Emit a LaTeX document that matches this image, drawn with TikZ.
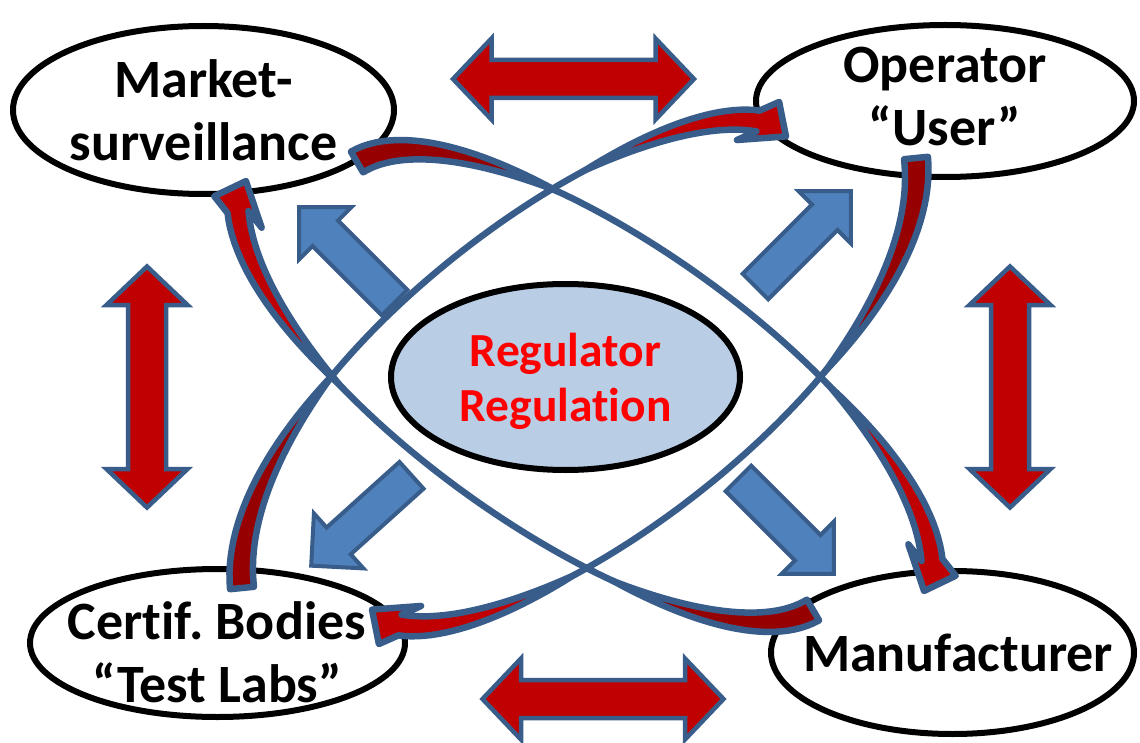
\documentclass[tikz,border=0pt]{standalone}
\usepackage{fontspec}
\setmainfont{Carlito}[Ligatures={NoCommon}]
\usetikzlibrary{shapes.geometric}
\definecolor{outl}{RGB}{56,93,138}
\definecolor{blockfill}{RGB}{79,129,189}
\definecolor{redfill}{RGB}{192,0,0}
\definecolor{darkfill}{RGB}{150,0,0}
\definecolor{regfill}{RGB}{185,205,229}
\definecolor{regtext}{RGB}{255,0,0}

\def\NN{80}
\def\NM{40}
\def\ta{0.33}
\def\tb{0.71}
\def\wa{24}
\def\wb{21}

% ribbon geometry from cubic Bezier (\xa,\ya)..(\xd,\yd)
\newcommand\mkribbon[1]{%
  \foreach \ri in {0,...,\NN}{%
    \pgfmathsetmacro\rt{\ri/\NN}%
    \pgfmathsetmacro\rs{1-\rt}%
    \pgfmathsetmacro\rbx{\rs*\rs*\rs*\xa+3*\rs*\rs*\rt*\xb+3*\rs*\rt*\rt*\xc+\rt*\rt*\rt*\xd}%
    \pgfmathsetmacro\rby{\rs*\rs*\rs*\ya+3*\rs*\rs*\rt*\yb+3*\rs*\rt*\rt*\yc+\rt*\rt*\rt*\yd}%
    \pgfmathsetmacro\rdx{0.01*(3*\rs*\rs*(\xb-\xa)+6*\rs*\rt*(\xc-\xb)+3*\rt*\rt*(\xd-\xc))}%
    \pgfmathsetmacro\rdy{0.01*(3*\rs*\rs*(\yb-\ya)+6*\rs*\rt*(\yc-\yb)+3*\rt*\rt*(\yd-\yc))}%
    \pgfmathsetmacro\rl{veclen(\rdx,\rdy)}%
    \pgfmathsetmacro\rhw{0.5*max(0,\wa*(1-pow(min(\rt,\ta)/\ta+0.0001,1.5))+\wb*(1-pow(min(\rs,1-\tb)/(1-\tb)+0.0001,1.5)))}%
    \coordinate (#1-L\ri) at ({\rbx-\rhw*\rdy/\rl},{\rby+\rhw*\rdx/\rl});%
    \coordinate (#1-R\ri) at ({\rbx+\rhw*\rdy/\rl},{\rby-\rhw*\rdx/\rl});%
  }%
  \pgfmathsetmacro\rl{veclen(0.01*(\xd-\xc),0.01*(\yd-\yc))}%
  \pgfmathsetmacro\rux{0.01*(\xd-\xc)/\rl}%
  \pgfmathsetmacro\ruy{0.01*(\yd-\yc)/\rl}%
  \coordinate (#1-W1) at ({\xd-18*\rux-22*\ruy},{\yd-18*\ruy+22*\rux});%
  \coordinate (#1-T) at ({\xd+30*\rux-11*\ruy},{\yd+30*\ruy+11*\rux});%
  \coordinate (#1-W2) at ({\xd+18*\rux+22*\ruy},{\yd+18*\ruy-22*\rux});%
}
\newcommand\drawribbon[1]{%
  \fill[darkfill] (#1-L0) \foreach \ri in {1,...,\NM}{ -- (#1-L\ri)} \foreach \ri in {\NM,...,0}{ -- (#1-R\ri)} -- cycle;
  \fill[redfill] (#1-L\NM) \foreach \ri in {\NM,...,\NN}{ -- (#1-L\ri)} -- (#1-W1) -- (#1-T) -- (#1-W2) \foreach \ri in {\NN,...,\NM}{ -- (#1-R\ri)} -- cycle;
  \draw[ribbonline] (#1-R0) -- (#1-L0) \foreach \ri in {1,...,\NN}{ -- (#1-L\ri)} -- (#1-W1) -- (#1-T) -- (#1-W2) \foreach \ri in {\NN,...,0}{ -- (#1-R\ri)} -- cycle;
}

\tikzset{
  party/.style={ellipse, draw=black, line width=6pt, fill=white, inner sep=0pt},
  partytext/.style={align=center, font=\fontsize{54}{63}\selectfont\bfseries, inner sep=0pt},
  regtext/.style={align=center, text=regtext, font=\fontsize{47.5}{55}\selectfont\bfseries, inner sep=0pt},
  blockarrow/.style={fill=blockfill, draw=outl, line width=4pt, line join=miter},
  dblarrow/.style={fill=redfill, draw=outl, line width=4.5pt, line join=miter},
  ribbonline/.style={draw=outl, line width=6.5pt, line join=round},
  blk/.pic={\draw[blockarrow] (2,-18) -- (100,-18) -- (100,-37) -- (137,0) -- (100,37) -- (100,18) -- (2,18) -- cycle;},
  dbl/.pic={\draw[dblarrow] (-120.5,0) -- (-82,-40.5) -- (-82,-19) -- (82,-19) -- (82,-40.5) -- (120.5,0) -- (82,40.5) -- (82,19) -- (-82,19) -- (-82,40.5) -- cycle;},
}

\begin{document}
\frenchspacing
\begin{tikzpicture}[x=1pt,y=-1pt]
\fill[white] (0,0) rectangle (1140,743);
\useasboundingbox (0,0) rectangle (1140,743);

% outer parties
\node[party, minimum width=381pt, minimum height=168pt] (market) at (203.5,110) {};
\node[party, minimum width=378pt, minimum height=152pt] (operator) at (945,101) {};
\node[party, minimum width=375pt, minimum height=148pt] (certif) at (217.5,643) {};
\node[party, minimum width=363pt, minimum height=163pt] (manuf) at (952.5,652.5) {};
\node[party, fill=regfill, minimum width=349pt, minimum height=186pt] (reg) at (565.5,377) {};

\node[partytext] (market-t) at (203.5,110) {Market-\\surveillance};
\node[partytext] (operator-t) at (945,96) {Operator\\“User”};
\node[partytext] (certif-t) at (217,652) {Certif. Bodies\\“Test Labs”};
\node[partytext] (manuf-t) at (958,653) {Manufacturer};
\node[regtext] (reg-t) at (565.5,381) {Regulator\\Regulation};

% red double arrows
\pic (dtop) at (573.5,79) {dbl};
\pic (dbot) at (603,699) {dbl};
\pic[rotate=90] (dleft) at (147,387) {dbl};
\pic[rotate=90] (dright) at (1010,387) {dbl};

% blue block arrows
\pic[rotate=135] (bul) at (396,304) {blk};
\pic[rotate=45] (bur) at (754,288) {blk};
\pic[rotate=222] (bll) at (413,474) {blk};
\pic[rotate=-45] (blr) at (737,477) {blk};

% curved ribbon arrows
\foreach \nm/\xa/\ya/\xb/\yb/\xc/\yc/\xd/\yd in {
  A/357/162/484.5/87/914/380/932/560,
  C/813/610/685.5/685/256/392/238/212,
  B/916/158/936/358/547/647.5/400/625,
  D/242/588/222/388/611/98.5/758/121}{%
  \mkribbon{\nm}%
  \drawribbon{\nm}%
}
\end{tikzpicture}
\end{document}
